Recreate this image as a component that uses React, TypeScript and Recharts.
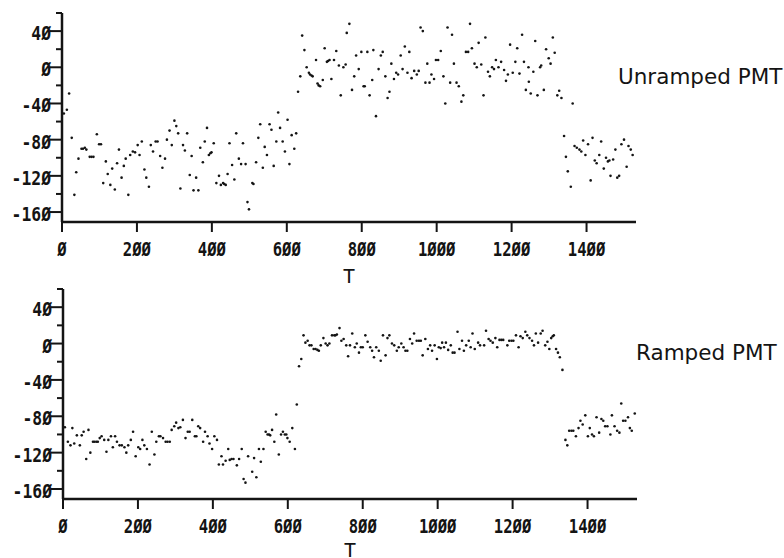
import React from "react";
import { ScatterChart, Scatter, XAxis, YAxis } from "recharts";

// [T, PMT] pairs
const unramped: [number, number][] = [
  [5, -51], [13, -47], [19, -29], [26, -78], [33, -141], [38, -116], [44, -101], [52, -90], [56, -90], [61, -89],
  [65, -91], [74, -99], [79, -99], [84, -99], [93, -74], [99, -85], [104, -85], [110, -128], [117, -104], [122, -118],
  [129, -130], [134, -112], [141, -135], [147, -106], [152, -91], [159, -122], [165, -109], [170, -101], [177, -141], [182, -97],
  [189, -93], [195, -94], [202, -86], [207, -97], [213, -82], [220, -113], [225, -122], [232, -132], [237, -86], [243, -93],
  [250, -82], [255, -82], [262, -98], [268, -111], [275, -101], [280, -80], [287, -70], [293, -86], [300, -59], [305, -65],
  [310, -73], [316, -134], [323, -86], [328, -92], [334, -73], [341, -119], [346, -98], [351, -136], [358, -122], [364, -136],
  [369, -89], [376, -105], [381, -82], [387, -67], [392, -97], [396, -95], [399, -94], [405, -84], [412, -128], [419, -120],
  [424, -130], [430, -128], [433, -129], [437, -130], [442, -118], [447, -84], [454, -108], [460, -124], [465, -73], [472, -101],
  [478, -107], [483, -84], [490, -107], [495, -149], [499, -157], [508, -128], [511, -129], [518, -105], [524, -78], [529, -63],
  [536, -111], [541, -88], [547, -97], [554, -63], [559, -69], [565, -109], [572, -82], [577, -50], [582, -67], [589, -82],
  [595, -93], [602, -58], [607, -107], [613, -75], [620, -90], [625, -73], [630, -27], [636, -10], [641, 35], [647, 19],
  [653, 0], [659, -6], [662, -8], [666, -9], [669, -10], [678, 8], [682, -18], [685, -20], [689, -21], [696, -14],
  [701, 21], [707, 6], [710, 7], [714, 8], [719, -13], [726, 8], [732, 18], [739, 2], [744, -31], [751, 0],
  [757, 3], [760, 38], [767, 48], [774, -25], [780, -10], [785, 13], [792, -2], [799, 17], [805, -21], [808, -21],
  [815, 17], [821, -31], [828, -14], [831, 19], [838, -54], [845, -2], [851, 13], [856, 17], [863, -10], [869, -34],
  [874, -27], [879, 4], [886, -13], [892, -6], [897, -8], [904, 13], [909, -2], [915, 23], [922, -6], [927, 17],
  [933, -12], [940, -4], [947, -8], [952, -4], [957, 44], [963, 40], [970, -17], [975, 4], [981, -17], [986, -8],
  [993, -13], [998, 8], [1004, 8], [1011, 18], [1018, -10], [1023, -40], [1029, 44], [1036, -17], [1041, 36], [1046, 4],
  [1053, -17], [1059, -21], [1066, -38], [1071, -31], [1078, 17], [1084, 17], [1089, 48], [1094, 21], [1101, 4], [1107, 0],
  [1112, 27], [1119, 3], [1125, -31], [1130, 33], [1137, -5], [1142, -10], [1148, 0], [1153, -2], [1158, 8], [1165, 0],
  [1172, 6], [1180, -3], [1185, -15], [1190, -8], [1196, 25], [1203, -6], [1210, 6], [1215, 21], [1221, -7], [1228, 36],
  [1233, 6], [1238, -25], [1245, 0], [1246, -16], [1251, -29], [1258, -5], [1263, 29], [1269, -31], [1276, 0], [1279, 2],
  [1286, -25], [1292, 20], [1299, 10], [1304, 4], [1310, 33], [1315, 16], [1322, -31], [1327, -26], [1333, -34], [1340, -76],
  [1345, -99], [1350, -115], [1358, -132], [1363, -40], [1368, -87], [1374, -89], [1381, -91], [1386, -93], [1391, -81], [1397, -97],
  [1404, -85], [1411, -125], [1416, -78], [1422, -103], [1427, -106], [1434, -97], [1439, -82], [1446, -112], [1452, -100], [1457, -104],
  [1461, -103], [1464, -120], [1471, -102], [1477, -91], [1482, -122], [1487, -120], [1493, -85], [1500, -80], [1507, -110], [1512, -87],
  [1518, -91], [1523, -97],
];

const ramped: [number, number][] = [
  [5, -92], [13, -108], [20, -112], [25, -93], [30, -110], [37, -101], [45, -112], [50, -101], [55, -97], [62, -127],
  [68, -95], [73, -120], [80, -108], [84, -108], [89, -108], [93, -108], [98, -104], [103, -102], [110, -106], [116, -119],
  [121, -106], [128, -102], [133, -114], [139, -102], [144, -108], [151, -112], [157, -112], [164, -114], [169, -120], [174, -112],
  [181, -106], [187, -97], [194, -124], [201, -114], [206, -116], [212, -106], [217, -112], [224, -116], [231, -133], [237, -97],
  [244, -122], [249, -108], [256, -102], [260, -102], [267, -104], [274, -108], [279, -108], [285, -108], [290, -95], [297, -91],
  [302, -87], [308, -93], [313, -92], [320, -84], [327, -104], [333, -97], [338, -97], [345, -84], [352, -102], [356, -102],
  [361, -91], [366, -93], [374, -108], [379, -97], [386, -102], [391, -110], [398, -116], [404, -102], [411, -106], [416, -133],
  [423, -124], [427, -133], [434, -129], [441, -116], [445, -128], [450, -127], [455, -127], [464, -134], [470, -127], [477, -116],
  [482, -149], [487, -153], [494, -124], [505, -141], [510, -126], [516, -147], [523, -116], [528, -130], [535, -116], [541, -97],
  [546, -100], [550, -100], [553, -101], [558, -95], [564, -108], [569, -78], [576, -122], [582, -100], [587, -97], [592, -100],
  [596, -100], [599, -104], [605, -108], [612, -93], [619, -116], [624, -67], [630, -25], [636, -17], [642, 9], [647, 1],
  [653, 3], [658, -2], [663, -2], [669, -6], [674, -6], [679, -7], [683, -8], [688, -2], [695, 6], [701, 0],
  [706, -2], [711, 0], [718, 9], [724, 9], [727, 9], [731, 10], [738, 17], [743, 3], [749, 5], [756, -2],
  [761, -14], [766, -2], [772, 11], [779, -4], [784, 0], [790, -10], [795, -4], [800, -4], [807, 9], [813, 2],
  [820, -4], [825, -8], [830, -15], [836, -4], [843, -8], [848, -19], [854, 9], [861, -13], [866, 6], [871, 9],
  [878, 0], [884, -2], [891, -8], [896, -4], [903, 0], [909, -4], [914, -8], [919, -8], [926, 5], [932, 0],
  [937, 11], [944, 3], [950, 3], [955, 3], [960, -13], [967, 5], [974, -6], [980, -2], [985, -8], [992, -2],
  [998, -17], [1003, -4], [1008, -5], [1012, 1], [1017, -4], [1022, 1], [1028, -7], [1035, -2], [1040, -10], [1045, -10],
  [1053, 13], [1058, -6], [1065, 3], [1070, -8], [1076, -2], [1083, 3], [1088, -4], [1093, 11], [1099, -6], [1108, 1],
  [1113, -2], [1124, -2], [1129, 14], [1136, 5], [1141, 3], [1147, 1], [1154, 6], [1159, -4], [1165, 4], [1170, 4],
  [1175, 4], [1186, -2], [1191, 3], [1197, 3], [1202, 3], [1209, 9], [1216, -4], [1221, 8], [1227, 6], [1234, 13],
  [1239, 9], [1245, 6], [1252, 3], [1257, -2], [1262, 11], [1268, 1], [1275, 11], [1280, 14], [1287, -2], [1293, 2],
  [1298, -6], [1303, 6], [1307, 8], [1310, 9], [1316, -6], [1321, -10], [1326, -15], [1333, -29], [1341, -106], [1346, -112],
  [1351, -96], [1357, -96], [1362, -96], [1369, -102], [1376, -93], [1381, -85], [1387, -89], [1394, -79], [1401, -102], [1406, -93],
  [1412, -100], [1417, -102], [1424, -81], [1431, -98], [1437, -83], [1442, -85], [1447, -91], [1453, -91], [1461, -100], [1465, -79],
  [1472, -91], [1479, -96], [1485, -98], [1490, -66], [1495, -85], [1501, -85], [1508, -81], [1513, -93], [1518, -96], [1526, -77],
];

const xTicks = [0, 200, 400, 600, 800, 1000, 1200, 1400];
const yTicks = [-160, -140, -120, -100, -80, -60, -40, -20, 0, 20, 40, 60];

const INK = "#141414";
const MONO = "'DejaVu Sans Mono', monospace";

// plotter style: zeros are written slashed
const fmt = (v: number) => String(v).replace(/0/g, "Ø");

function XTick({ x, y, payload }: any) {
  return (
    <g>
      <line x1={x} x2={x} y1={y} y2={y + 10} stroke={INK} strokeWidth={2} />
      <text
        transform={`translate(${x},${y + 34}) scale(0.78,1)`}
        textAnchor="middle"
        fontSize={20}
        fontWeight="bold"
        fontFamily={MONO}
        fill={INK}
      >
        {fmt(payload.value)}
      </text>
    </g>
  );
}

function YTick({ x, y, payload }: any) {
  const major = payload.value % 40 === 0;
  return (
    <g>
      <line x1={x - (major ? 12 : 6)} x2={x} y1={y} y2={y} stroke={INK} strokeWidth={2} />
      {major && (
        <text
          transform={`translate(${x - 11},${y + 9}) scale(0.82,1)`}
          textAnchor="end"
          fontSize={20}
          fontWeight="bold"
          fontFamily={MONO}
          fill={INK}
        >
          {fmt(payload.value)}
        </text>
      )}
    </g>
  );
}

const dot = (p: any) => <circle cx={p.cx} cy={p.cy} r={1.3} fill={INK} />;

function Panel({
  data,
  title,
  titleX,
  top,
  height,
  margin,
  xAxisHeight,
  labelOffset,
}: {
  data: [number, number][];
  title: string;
  titleX: number;
  top: number;
  height: number;
  margin: { top: number; right: number; bottom: number; left: number };
  xAxisHeight: number;
  labelOffset: number;
}) {
  const points = data.map(([t, v]) => ({ t, v }));
  return (
    <div style={{ position: "absolute", left: 0, top }}>
      <ScatterChart width={784} height={height} margin={margin}>
        <XAxis
          type="number"
          dataKey="t"
          domain={[0, 1532]}
          ticks={xTicks}
          interval={0}
          allowDataOverflow
          height={xAxisHeight}
          tickSize={0}
          tickMargin={0}
          tickLine={false}
          axisLine={{ stroke: INK, strokeWidth: 2.5 }}
          tick={<XTick />}
          label={{
            value: "T",
            position: "insideBottom",
            offset: labelOffset,
            fontSize: 20,
            fontFamily: MONO,
            fill: INK,
          }}
        />
        <YAxis
          type="number"
          dataKey="v"
          domain={[-171, 60]}
          ticks={yTicks}
          interval={0}
          allowDataOverflow
          width={50}
          tickSize={0}
          tickMargin={0}
          tickLine={false}
          axisLine={{ stroke: INK, strokeWidth: 2.5 }}
          tick={<YTick />}
        />
        <Scatter data={points} fill={INK} shape={dot} isAnimationActive={false} />
        <text x={titleX} y={84} fontSize={21.5} fontFamily="'DejaVu Sans', sans-serif" fill={INK}>
          {title}
        </text>
      </ScatterChart>
    </div>
  );
}

export default function App() {
  return (
    <div
      style={{
        position: "absolute",
        left: 0,
        top: 0,
        width: 784,
        height: 558,
        background: "#fff",
        overflow: "hidden",
      }}
    >
      <Panel
        data={unramped}
        title="Unramped PMT"
        titleX={618}
        top={0}
        height={292}
        margin={{ top: 13, right: 148, bottom: 8, left: 12 }}
        xAxisHeight={62}
        labelOffset={1}
      />
      <Panel
        data={ramped}
        title="Ramped PMT"
        titleX={636}
        top={276}
        height={282}
        margin={{ top: 13, right: 147, bottom: 0, left: 13 }}
        xAxisHeight={59}
        labelOffset={1}
      />
    </div>
  );
}
